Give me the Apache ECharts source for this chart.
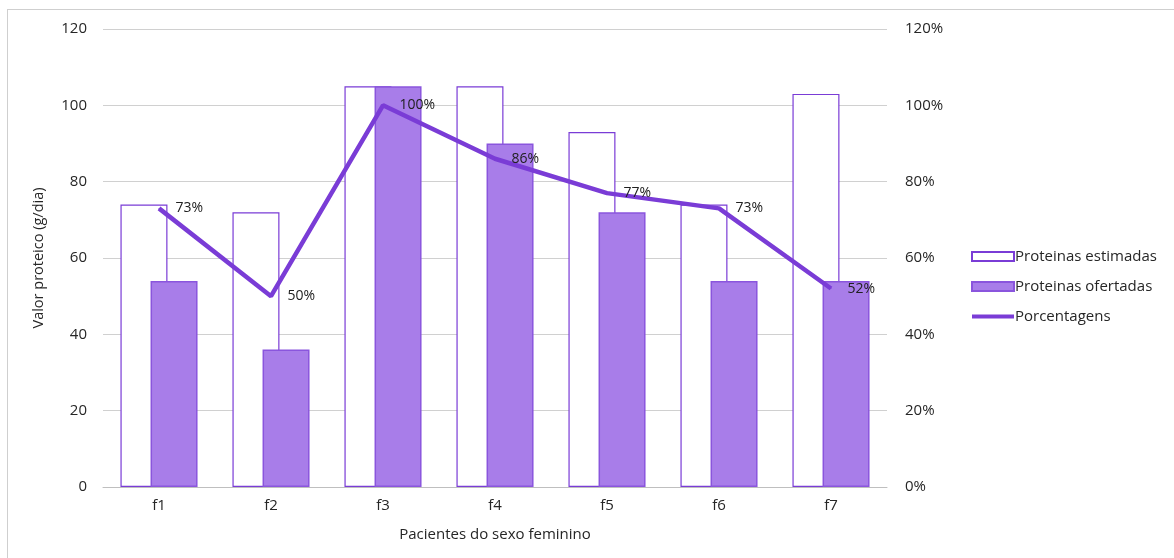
<!DOCTYPE html>
<html>
<head>
<meta charset="utf-8">
<script src="https://cdn.jsdelivr.net/npm/echarts@6/dist/echarts.min.js"></script>
<style>
  html, body { margin: 0; padding: 0; background: #fff; }
  #frame { position: absolute; left: 7px; top: 9px; width: 1180px; height: 560px; border: 1px solid #CFCFCF; box-sizing: border-box; }
  #chart { position: absolute; left: 0; top: 0; width: 1174px; height: 558px; }
</style>
</head>
<body>
<div id="frame"></div>
<div id="chart"></div>
<script>
const categories = ['f1', 'f2', 'f3', 'f4', 'f5', 'f6', 'f7'];
const proteinasEstimadas = [74, 72, 105, 105, 93, 74, 103];
const proteinasOfertadas = [54, 36, 105, 90, 72, 54, 54];
const porcentagens = [73, 50, 100, 86, 77, 73, 52];
const leftTicks = [0, 20, 40, 60, 80, 100, 120];

const FONT = 'Open Sans';
const TXT = '#262626';
const PURPLE = '#7A3CD6';
const FILL = '#A87DE9';

const chart = echarts.init(document.getElementById('chart'), null, { renderer: 'canvas' });
chart.setOption({
  animation: false,
  textStyle: { fontFamily: FONT },
  grid: { left: 103, right: 287, top: 29, bottom: 71 },
  legend: {
    orient: 'vertical',
    left: 966,
    top: 244,
    itemGap: 15,
    itemWidth: 42,
    itemHeight: 9,
    textStyle: { fontFamily: FONT, fontSize: 15, color: TXT, padding: [0, 0, 0, -4] },
    data: [
      { name: 'Proteinas estimadas', icon: 'rect' },
      { name: 'Proteinas ofertadas', icon: 'rect' },
      { name: 'Porcentagens', icon: 'path://M0,3 L42,3 L42,7 L0,7 Z', itemStyle: { color: PURPLE, borderWidth: 0 } }
    ]
  },
  xAxis: {
    type: 'category',
    data: categories,
    name: 'Pacientes do sexo feminino',
    nameLocation: 'middle',
    nameGap: 40,
    nameTextStyle: { fontFamily: FONT, fontSize: 15, color: TXT },
    axisLine: { lineStyle: { color: '#BFBFBF' } },
    axisTick: { show: false },
    axisLabel: { fontFamily: FONT, fontSize: 15, color: TXT, margin: 11 }
  },
  yAxis: [
    {
      type: 'value',
      min: leftTicks[0],
      max: leftTicks[leftTicks.length - 1],
      interval: 20,
      name: 'Valor proteico (g/dia)',
      nameLocation: 'middle',
      nameGap: 57,
      nameTextStyle: { fontFamily: FONT, fontSize: 14.5, color: TXT },
      axisLine: { show: false },
      axisTick: { show: false },
      axisLabel: { fontFamily: FONT, fontSize: 15, color: TXT, margin: 16 },
      splitLine: { lineStyle: { color: '#D0D0D0' } }
    },
    {
      type: 'value',
      min: 0,
      max: 120,
      interval: 20,
      axisLine: { show: false },
      axisTick: { show: false },
      axisLabel: { fontFamily: FONT, fontSize: 15, color: TXT, margin: 18, formatter: '{value}%' },
      splitLine: { show: false }
    }
  ],
  series: [
    {
      name: 'Proteinas estimadas',
      type: 'bar',
      data: proteinasEstimadas,
      barWidth: 47,
      barGap: '-36%',
      itemStyle: { color: '#FFFFFF', borderColor: PURPLE, borderWidth: 1.2 }
    },
    {
      name: 'Proteinas ofertadas',
      type: 'bar',
      data: proteinasOfertadas,
      barWidth: 47,
      itemStyle: { color: FILL, borderColor: '#8A55DD', borderWidth: 1.5 }
    },
    {
      name: 'Porcentagens',
      type: 'line',
      yAxisIndex: 1,
      data: porcentagens,
      symbol: 'circle',
      symbolSize: 1,
      showSymbol: true,
      lineStyle: { color: PURPLE, width: 4.5 },
      itemStyle: { color: PURPLE },
      z: 5,
      label: {
        show: true,
        position: 'right',
        distance: 16,
        formatter: '{c}%',
        fontFamily: FONT,
        fontSize: 14,
        color: '#202020'
      }
    }
  ]
});
</script>
</body>
</html>
